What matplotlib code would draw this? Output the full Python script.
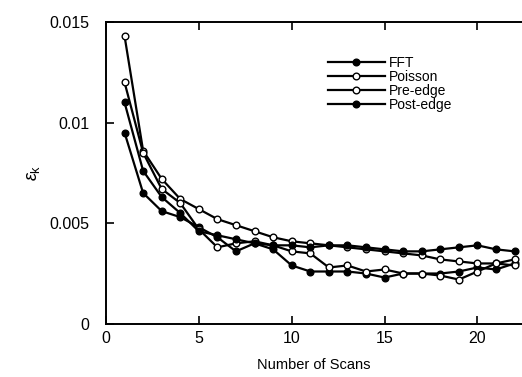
import numpy as np
import matplotlib
matplotlib.use("Agg")
import matplotlib.pyplot as plt

plt.rcParams['font.family'] = ['Liberation Sans', 'DejaVu Sans']
plt.rcParams['mathtext.fontset'] = 'custom'
plt.rcParams['mathtext.rm'] = 'Liberation Sans'
plt.rcParams['mathtext.it'] = 'Liberation Sans:italic'

# number of scans
scans = np.arange(1, 23)

fft = [0.0095, 0.0065, 0.0056, 0.0053, 0.0048, 0.0043, 0.0036, 0.0040, 0.0037, 0.0029, 0.0026,
       0.0026, 0.0026, 0.0025, 0.0023, 0.0025, 0.0025, 0.0025, 0.0026, 0.0028, 0.0027, 0.0030]
poisson = [0.0143, 0.0086, 0.0072, 0.0062, 0.0057, 0.0052, 0.0049, 0.0046, 0.0043, 0.0041, 0.0040,
           0.0039, 0.0038, 0.0037, 0.0036, 0.0035, 0.0034, 0.0032, 0.0031, 0.0030, 0.0030, 0.0029]
pre_edge = [0.0120, 0.0085, 0.0067, 0.0060, 0.0047, 0.0038, 0.0040, 0.0041, 0.0039, 0.0036, 0.0035,
            0.0028, 0.0029, 0.0026, 0.0027, 0.0025, 0.0025, 0.0024, 0.0022, 0.0026, 0.0030, 0.0032]
post_edge = [0.0110, 0.0076, 0.0063, 0.0055, 0.0046, 0.0044, 0.0042, 0.0040, 0.0039, 0.0039, 0.0038,
             0.0039, 0.0039, 0.0038, 0.0037, 0.0036, 0.0036, 0.0037, 0.0038, 0.0039, 0.0037, 0.0036]

fig = plt.figure(figsize=(5.22, 3.77), dpi=100)
ax = fig.add_axes([0.203, 0.141, 0.797, 0.801])

style = dict(color='black', lw=1.6, markersize=4.8, markeredgewidth=1.0)
ax.plot(scans, fft, marker='o', markerfacecolor='black', label='FFT', **style)
ax.plot(scans, poisson, marker='o', markerfacecolor='white', label='Poisson', **style)
ax.plot(scans, pre_edge, marker='o', markerfacecolor='white', label='Pre-edge', **style)
ax.plot(scans, post_edge, marker='o', markerfacecolor='black', label='Post-edge', **style)

ax.set_xlim(0, 22.4)
ax.set_ylim(0, 0.015)
ax.set_xticks([0, 5, 10, 15, 20])
ax.set_yticks([0, 0.005, 0.01, 0.015])
ax.set_yticklabels(['0', '0.005', '0.01', '0.015'])
ax.tick_params(direction='in', length=6, width=1.2, top=True, labelsize=11.5)
ax.tick_params(axis='y', pad=12)
ax.tick_params(axis='x', pad=5)
for side in ['left', 'bottom', 'top']:
    ax.spines[side].set_linewidth(1.4)
ax.spines['right'].set_visible(False)

ax.set_xlabel('Number of Scans', fontsize=10.5, labelpad=9)
ax.set_ylabel(r'$\varepsilon_{\rm k}$', fontsize=13, labelpad=5)

ax.legend(loc='upper left', bbox_to_anchor=(0.517, 0.91), frameon=False, fontsize=10,
          handlelength=4.1, handletextpad=0.25, labelspacing=0.0, borderpad=0)

fig.savefig('out.png', dpi=100)
